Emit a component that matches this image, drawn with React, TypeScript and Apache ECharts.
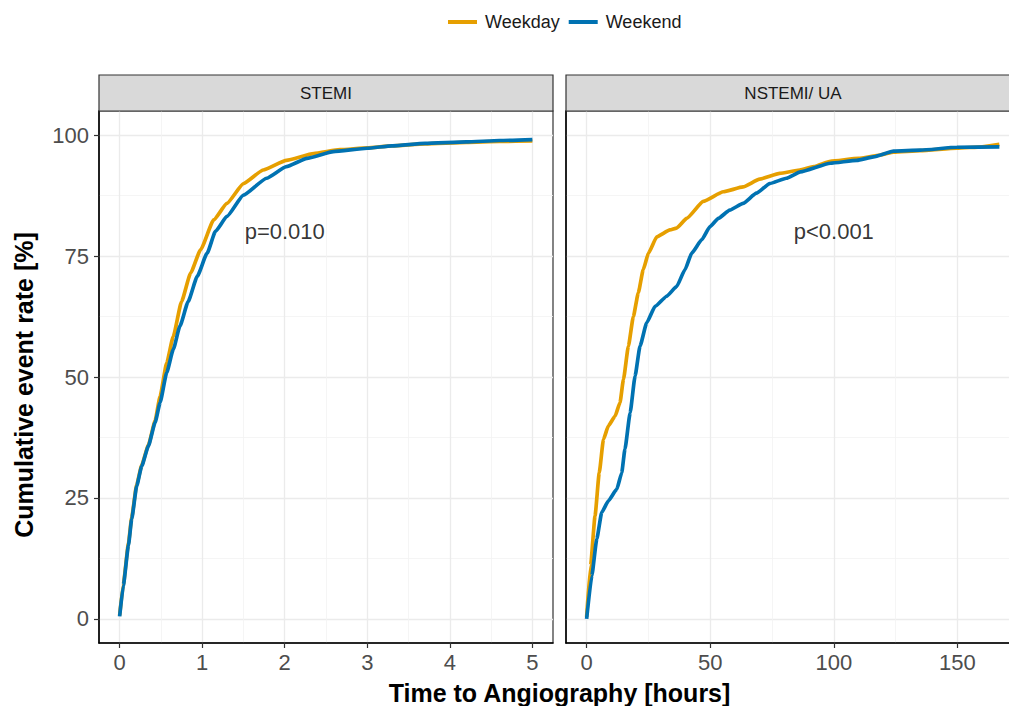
import React, { useEffect, useRef } from "react";
import * as echarts from "echarts";

// ---------- data ----------
const seriesNames = ["Weekday", "Weekend"];
const panelTitles = ["STEMI", "NSTEMI/ UA"];
const pValues = ["p=0.010", "p<0.001"];
const pPositions = [
  [2, 80],
  [100, 80],
];

const stemiTicks = [0, 1, 2, 3, 4, 5];
const stemiMinor = [0.5, 1.5, 2.5, 3.5, 4.5];
const nstemiTicks = [0, 50, 100, 150];
const nstemiMinor = [25, 75, 125, 175];
const yTicks = [0, 25, 50, 75, 100];
const yMinor = [12.5, 37.5, 62.5, 87.5];

const stemiWeekdayX = [0, 0.045, 0.106, 0.146, 0.207, 0.268, 0.348, 0.43, 0.49, 0.57, 0.65, 0.75, 0.86, 0.98, 1.14, 1.3, 1.5, 1.74, 2.02, 2.35, 2.67, 3.0, 3.3, 3.7, 4.2, 4.6, 5.0];
const stemiWeekdayY = [0.7, 7.2, 15.5, 21, 27.8, 31.8, 35.9, 41, 46, 52.9, 58.4, 65.6, 71.5, 76.3, 82.5, 85.9, 90, 92.8, 94.8, 96.2, 97.0, 97.4, 97.8, 98.2, 98.5, 98.7, 98.8];

const stemiWeekendX = [0, 0.045, 0.106, 0.146, 0.207, 0.268, 0.348, 0.43, 0.49, 0.57, 0.65, 0.73, 0.83, 0.94, 1.06, 1.16, 1.3, 1.5, 1.78, 2.02, 2.27, 2.59, 3.0, 3.3, 3.7, 4.2, 4.6, 5.0];
const stemiWeekendY = [0.5, 6.9, 15.1, 20.6, 27.5, 31.6, 35.7, 40.6, 44.7, 50.9, 55.7, 60.5, 65.6, 70.8, 75.6, 80.1, 83.2, 87.6, 91.1, 93.5, 95.2, 96.6, 97.3, 97.8, 98.3, 98.6, 98.9, 99.1];

const nstemiWeekdayX = [0, 1.6, 3.4, 5.1, 6.8, 8.8, 11.5, 13.5, 14.9, 16.9, 18.9, 20.9, 22.9, 25, 28.4, 33.7, 36.4, 40.5, 47.2, 55.3, 63.3, 70, 78.1, 86.2, 91.9, 98.6, 110, 118.8, 124.2, 135, 149.8, 160, 167];
const nstemiWeekdayY = [0.4, 11, 21.3, 30.2, 37.1, 39.9, 41.9, 44.7, 49.5, 56.4, 62.5, 67.4, 72.2, 75.6, 79, 80.4, 80.8, 82.8, 86.3, 88.3, 89.3, 90.9, 92.1, 92.8, 93.5, 94.6, 95.2, 95.9, 96.5, 96.8, 97.3, 97.6, 98.1];

const nstemiWeekendX = [0, 2.1, 4.1, 6.1, 8.8, 12.2, 14.2, 15.5, 17.6, 19.6, 21.6, 24.3, 27.7, 32.4, 36.4, 39.8, 42.5, 46.6, 49.9, 53.3, 57.9, 63.3, 68.7, 74.1, 80.8, 86.5, 98.6, 109.4, 116.1, 124.2, 135, 149.8, 167];
const nstemiWeekendY = [0, 8.9, 16.5, 22, 24.4, 26.8, 30.2, 35.1, 42.6, 50.2, 56.4, 61.2, 64.6, 66.7, 68.7, 72.2, 75.6, 78.4, 81.1, 82.8, 84.5, 85.9, 88, 90, 91.1, 92.4, 94.2, 94.8, 95.5, 96.7, 96.9, 97.5, 97.6];

// ---------- styling ----------
const FONT = "'Liberation Sans', Arial, sans-serif";
const colors = ["#E69F00", "#0072B2"];
const PANEL_TOP = 111;
const PANEL_H = 532;
const PANEL_W = 454;
const PANEL_LEFTS = [99, 566];
const STRIP_TOP = 75;
const STRIP_H = 36;

const zip = (xs: number[], ys: number[]) => xs.map((x, i) => [x, ys[i]]);

function mainX(gridIndex: number, min: number, max: number, ticks: number[]) {
  return {
    type: "value",
    gridIndex,
    min,
    max,
    position: "bottom",
    axisLine: { show: true, onZero: false, lineStyle: { color: "#000", width: 1.5 } },
    axisTick: { show: true, length: 5, customValues: ticks, lineStyle: { color: "#333", width: 1.2 } },
    axisLabel: { show: true, customValues: ticks, color: "#4D4D4D", fontSize: 22, fontFamily: FONT, margin: 8 },
    splitLine: { show: true, lineStyle: { color: "#EBEBEB", width: 1.3 } },
  };
}
function minorX(gridIndex: number, min: number, max: number, ticks: number[]) {
  return {
    type: "value",
    gridIndex,
    min,
    max,
    position: "bottom",
    axisLine: { show: false },
    axisTick: { show: false, customValues: ticks },
    axisLabel: { show: false },
    splitLine: { show: true, lineStyle: { color: "#F2F2F2", width: 0.8 } },
  };
}
function mainY(gridIndex: number, withLabels: boolean) {
  return {
    type: "value",
    gridIndex,
    min: -5,
    max: 105,
    position: "left",
    axisLine: { show: true, onZero: false, lineStyle: { color: "#000", width: 1.5 } },
    axisTick: { show: withLabels, length: 5, customValues: yTicks, lineStyle: { color: "#333", width: 1.2 } },
    axisLabel: { show: withLabels, customValues: yTicks, color: "#4D4D4D", fontSize: 22, fontFamily: FONT, margin: 10 },
    splitLine: { show: true, lineStyle: { color: "#EBEBEB", width: 1.3 } },
  };
}
function minorY(gridIndex: number) {
  return {
    type: "value",
    gridIndex,
    min: -5,
    max: 105,
    position: "left",
    axisLine: { show: false },
    axisTick: { show: false, customValues: yMinor },
    axisLabel: { show: false },
    splitLine: { show: true, lineStyle: { color: "#F2F2F2", width: 0.8 } },
  };
}

function lineSeries(name: string, color: string, xi: number, yi: number, data: number[][], z: number) {
  return {
    type: "line",
    name,
    xAxisIndex: xi,
    yAxisIndex: yi,
    data,
    showSymbol: false,
    symbol: "none",
    smooth: 0.15,
    smoothMonotone: "x",
    z,
    lineStyle: { color, width: 3.7 },
    itemStyle: { color },
    silent: true,
  };
}

function pSeries(text: string, xi: number, yi: number, pos: number[]) {
  return {
    type: "scatter",
    xAxisIndex: xi,
    yAxisIndex: yi,
    data: [pos],
    symbolSize: 1,
    itemStyle: { color: "rgba(0,0,0,0)" },
    silent: true,
    z: 10,
    label: {
      show: true,
      position: "inside",
      formatter: text,
      color: "#000",
      fontSize: 22,
      fontFamily: FONT,
    },
  };
}

export default function App() {
  const ref = useRef<HTMLDivElement>(null);

  useEffect(() => {
    if (!ref.current) return;
    const chart = echarts.init(ref.current, undefined, { renderer: "svg" });

    const strips: any[] = [];
    PANEL_LEFTS.forEach((left, i) => {
      strips.push({
        type: "rect",
        shape: { x: left, y: STRIP_TOP, width: PANEL_W, height: STRIP_H },
        style: { fill: "#D9D9D9", stroke: "#333333", lineWidth: 1.2 },
        z: 5,
      });
      strips.push({
        type: "text",
        x: left + PANEL_W / 2,
        y: STRIP_TOP + STRIP_H / 2,
        style: {
          text: panelTitles[i],
          fill: "#1A1A1A",
          font: `17px ${FONT}`,
          textAlign: "center",
          textVerticalAlign: "middle",
        },
        z: 6,
      });
    });

    const option: any = {
      animation: false,
      backgroundColor: "#FFFFFF",
      legend: {
        data: seriesNames,
        left: 448,
        top: 13,
        padding: 0,
        icon: "rect",
        itemWidth: 29,
        itemHeight: 4,
        itemGap: 9,
        textStyle: { color: "#1A1A1A", fontSize: 18, fontFamily: FONT, padding: [0, 0, 0, 3] },
        selectedMode: false,
      },
      grid: PANEL_LEFTS.map((left) => ({
        left,
        top: PANEL_TOP,
        width: PANEL_W,
        height: PANEL_H,
        show: true,
        borderColor: "#333333",
        borderWidth: 1.2,
        backgroundColor: "#FFFFFF",
        containLabel: false,
      })),
      xAxis: [
        mainX(0, -0.25, 5.25, stemiTicks),
        minorX(0, -0.25, 5.25, stemiMinor),
        mainX(1, -8.35, 175.35, nstemiTicks),
        minorX(1, -8.35, 175.35, nstemiMinor),
      ],
      yAxis: [mainY(0, true), minorY(0), mainY(1, false), minorY(1)],
      series: [
        lineSeries(seriesNames[0], colors[0], 0, 0, zip(stemiWeekdayX, stemiWeekdayY), 3),
        lineSeries(seriesNames[1], colors[1], 0, 0, zip(stemiWeekendX, stemiWeekendY), 4),
        lineSeries(seriesNames[0], colors[0], 2, 2, zip(nstemiWeekdayX, nstemiWeekdayY), 3),
        lineSeries(seriesNames[1], colors[1], 2, 2, zip(nstemiWeekendX, nstemiWeekendY), 4),
        pSeries(pValues[0], 0, 0, pPositions[0]),
        pSeries(pValues[1], 2, 2, pPositions[1]),
      ],
      graphic: [
        ...strips,
        {
          type: "text",
          x: 559.5,
          y: 693,
          style: {
            text: "Time to Angiography [hours]",
            fill: "#000",
            font: `bold 25px ${FONT}`,
            textAlign: "center",
            textVerticalAlign: "middle",
          },
        },
        {
          type: "text",
          x: 24,
          y: 385,
          rotation: Math.PI / 2,
          style: {
            text: "Cumulative event rate [%]",
            fill: "#000",
            font: `bold 25px ${FONT}`,
            textAlign: "center",
            textVerticalAlign: "middle",
          },
        },
      ],
    };

    chart.setOption(option);
    return () => chart.dispose();
  }, []);

  return (
    <div style={{ position: "absolute", left: 0, top: 0, width: 1009, height: 706, overflow: "hidden", background: "#fff" }}>
      <div ref={ref} style={{ width: 1030, height: 706 }} />
    </div>
  );
}
